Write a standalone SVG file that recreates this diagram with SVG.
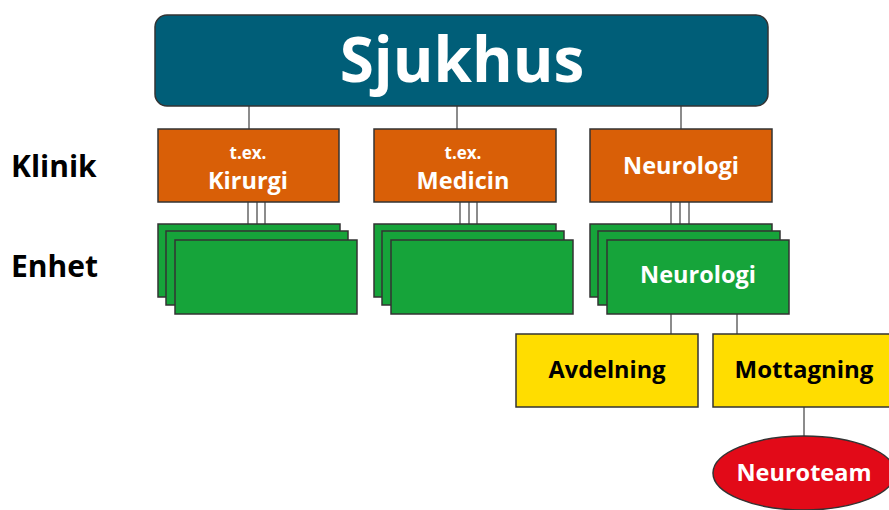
<svg xmlns="http://www.w3.org/2000/svg" width="889" height="510" viewBox="0 0 889 510">
  <style>
    text { font-family: "Open Sans", "Liberation Sans", sans-serif; font-weight: bold; text-anchor: middle; }
    .wt { fill: #ffffff; }
    .bk { fill: #000000; }
    .box { stroke: #333333; stroke-width: 1.5; }
    .top { fill: #005e78; }
    .klinik { fill: #d95f07; }
    .enhet { fill: #16a43a; }
    .sub { fill: #ffdd00; }
    .team { fill: #e20a18; }
    .conn line { stroke: #666666; stroke-width: 1.5; }
    .side { text-anchor: start; font-size: 30px; }
  </style>

  <!-- connectors -->
  <g id="connectors" class="conn">
    <line x1="249" y1="106" x2="249" y2="129"/>
    <line x1="457" y1="106" x2="457" y2="129"/>
    <line x1="681" y1="106" x2="681" y2="129"/>

    <line x1="248" y1="202" x2="248" y2="224"/>
    <line x1="257" y1="202" x2="257" y2="231"/>
    <line x1="265" y1="202" x2="265" y2="240"/>

    <line x1="460" y1="202" x2="460" y2="224"/>
    <line x1="469" y1="202" x2="469" y2="231"/>
    <line x1="477" y1="202" x2="477" y2="240"/>

    <line x1="671" y1="202" x2="671" y2="224"/>
    <line x1="680" y1="202" x2="680" y2="231"/>
    <line x1="689" y1="202" x2="689" y2="240"/>

    <line x1="671" y1="314" x2="671" y2="334"/>
    <line x1="737" y1="314" x2="737" y2="334"/>
    <line x1="804" y1="407" x2="804" y2="436"/>
  </g>

  <!-- row labels -->
  <text class="bk side" x="11" y="177">Klinik</text>
  <text class="bk side" x="11" y="277">Enhet</text>

  <!-- hospital -->
  <g id="sjukhus">
    <rect class="box top" x="155" y="15" width="613" height="91" rx="12"/>
    <text class="wt" x="462" y="82" font-size="62">Sjukhus</text>
  </g>

  <!-- clinics -->
  <g id="klinik-kirurgi">
    <rect class="box klinik" x="158" y="129" width="181" height="73"/>
    <text class="wt" x="248" y="159" font-size="17">t.ex.</text>
    <text class="wt" x="248" y="189" font-size="23.5">Kirurgi</text>
  </g>
  <g id="klinik-medicin">
    <rect class="box klinik" x="374" y="129" width="182" height="73"/>
    <text class="wt" x="463" y="159" font-size="17">t.ex.</text>
    <text class="wt" x="463" y="189" font-size="23.5">Medicin</text>
  </g>
  <g id="klinik-neurologi">
    <rect class="box klinik" x="590" y="129" width="182" height="73"/>
    <text class="wt" x="681" y="174" font-size="23.5">Neurologi</text>
  </g>

  <!-- units -->
  <g id="enhet-kirurgi">
    <rect class="box enhet" x="158" y="224" width="182" height="73"/>
    <rect class="box enhet" x="166" y="231" width="182" height="74"/>
    <rect class="box enhet" x="175" y="240" width="182" height="74"/>
  </g>
  <g id="enhet-medicin">
    <rect class="box enhet" x="374" y="224" width="182" height="73"/>
    <rect class="box enhet" x="382" y="231" width="182" height="74"/>
    <rect class="box enhet" x="391" y="240" width="182" height="74"/>
  </g>
  <g id="enhet-neurologi">
    <rect class="box enhet" x="590" y="224" width="182" height="73"/>
    <rect class="box enhet" x="598" y="231" width="182" height="74"/>
    <rect class="box enhet" x="607" y="240" width="182" height="74"/>
    <text class="wt" x="698" y="283" font-size="23.5">Neurologi</text>
  </g>

  <!-- sub-units -->
  <g id="avdelning">
    <rect class="box sub" x="516" y="334" width="182" height="73"/>
    <text class="bk" x="607" y="378" font-size="23.5">Avdelning</text>
  </g>
  <g id="mottagning">
    <rect class="box sub" x="713" y="334" width="182" height="73"/>
    <text class="bk" x="804" y="378" font-size="24">Mottagning</text>
  </g>

  <!-- team -->
  <g id="neuroteam">
    <ellipse class="box team" cx="804" cy="473" rx="91" ry="37"/>
    <text class="wt" x="804" y="481" font-size="23.5">Neuroteam</text>
  </g>
</svg>
